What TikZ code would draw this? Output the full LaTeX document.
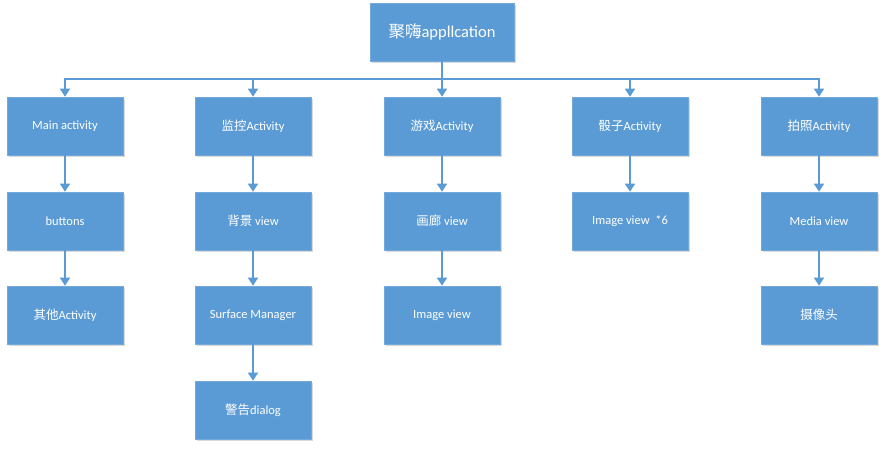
\documentclass[tikz,border=0pt]{standalone}
\usepackage{fontspec}
\setmainfont{Carlito}
\newfontfamily\cjk{Noto Sans CJK SC}
\usetikzlibrary{arrows.meta,calc}
\definecolor{boxblue}{HTML}{5B9BD5}
\definecolor{lineblue}{HTML}{5B9BD5}
\begin{document}
\begin{tikzpicture}[x=1pt,y=-1pt,
  box/.style={rectangle,fill=boxblue,draw=boxblue!85!white,line width=0.6pt,minimum width=116pt,minimum height=58pt,inner sep=0pt,text=white,font=\fontsize{12.5}{14}\selectfont},
  conn/.style={draw=lineblue,line width=1.6pt,-{Triangle[width=10pt,length=8pt]}}]
\useasboundingbox (0,0) rectangle (885,448);
% shadows
\foreach \x/\y/\w in {442/32/144,65/126/116,253/126/116,442/126/116,630/126/116,819/126/116,65/221/116,253/221/116,442/221/116,630/221/116,819/221/116,65/315/116,253/315/116,442/315/116,819/315/116,253/410/116}
  \fill[black!15] (\x-\w/2+1.5,\y-29+1.5) rectangle (\x+\w/2+1.5,\y+29+1.5);
\node[box,minimum width=144pt,font=\fontsize{16.5}{19}\selectfont] (top) at (442,32) {{\cjk 聚嗨}appllcation};
\node[box] (a1) at (65,126) {Main activity};
\node[box] (a2) at (65,221) {buttons};
\node[box] (a3) at (65,315) {{\cjk 其他}Activity};
\node[box] (b1) at (253,126) {{\cjk 监控}Activity};
\node[box] (b2) at (253,221) {{\cjk 背景} view};
\node[box] (b3) at (253,315) {Surface Manager};
\node[box] (b4) at (253,410) {{\cjk 警告}dialog};
\node[box] (c1) at (442,126) {{\cjk 游戏}Activity};
\node[box] (c2) at (442,221) {{\cjk 画廊} view};
\node[box] (c3) at (442,315) {Image view};
\node[box] (d1) at (630,126) {{\cjk 骰子}Activity};
\node[box] (d2) at (630,221) {Image view\ \ *6};
\node[box] (e1) at (819,126) {{\cjk 拍照}Activity};
\node[box] (e2) at (819,221) {Media view};
\node[box] (e3) at (819,315) {{\cjk 摄像头}};
\coordinate (bus) at (442,79);
\draw[conn] (top.south) -- (c1.north);
\draw[conn] (bus) -| (a1.north);
\draw[conn] (bus) -| (b1.north);
\draw[conn] (bus) -| (d1.north);
\draw[conn] (bus) -| (e1.north);
\draw[conn] (a1) -- (a2);
\draw[conn] (a2) -- (a3);
\draw[conn] (b1) -- (b2);
\draw[conn] (b2) -- (b3);
\draw[conn] (b3) -- (b4);
\draw[conn] (c1) -- (c2);
\draw[conn] (c2) -- (c3);
\draw[conn] (d1) -- (d2);
\draw[conn] (e1) -- (e2);
\draw[conn] (e2) -- (e3);
\end{tikzpicture}
\end{document}
